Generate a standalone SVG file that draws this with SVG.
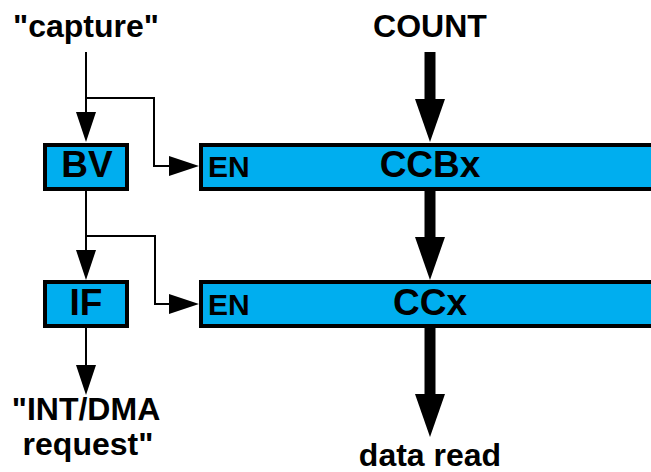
<svg xmlns="http://www.w3.org/2000/svg" width="651" height="472" viewBox="0 0 651 472">
<style>
.box{fill:#00AEEF;stroke:#000;stroke-width:4}
.thin{fill:none;stroke:#000;stroke-width:2}
.thick{fill:none;stroke:#000;stroke-width:11}
text{font-family:"Liberation Sans",Arial,sans-serif;font-weight:bold;fill:#000}
.lbl{font-size:32px;text-anchor:middle}
.big{font-size:37px;text-anchor:middle}
.en{font-size:30px}
</style>
<defs>
<marker id="ah" markerUnits="userSpaceOnUse" markerWidth="30" markerHeight="20" refX="0" refY="10" orient="auto" overflow="visible">
<path d="M0,0 L30,10 L0,20 Z" fill="#000"/>
</marker>
<marker id="ahb" markerUnits="userSpaceOnUse" markerWidth="43" markerHeight="30" refX="0" refY="15" orient="auto" overflow="visible">
<path d="M0,0 L43,15 L0,30 Z" fill="#000"/>
</marker>
</defs>
<g id="connectors">
<path class="thin" d="M86,52 V112" marker-end="url(#ah)"/>
<path class="thin" d="M86,98 H154 V166 H169" marker-end="url(#ah)"/>
<path class="thin" d="M86,191 V250" marker-end="url(#ah)"/>
<path class="thin" d="M86,236 H155 V304 H169" marker-end="url(#ah)"/>
<path class="thin" d="M86,328 V365" marker-end="url(#ah)"/>
<path class="thick" d="M430,52 V99" marker-end="url(#ahb)"/>
<path class="thick" d="M430,191 V237" marker-end="url(#ahb)"/>
<path class="thick" d="M430,328 V394" marker-end="url(#ahb)"/>
</g>
<g id="capture"><text class="lbl" x="86" y="37">"capture"</text></g>
<g id="count"><text class="lbl" x="430" y="37">COUNT</text></g>
<g id="bv"><rect class="box" x="45" y="145" width="82" height="44"/><text class="big" x="87" y="177">BV</text></g>
<g id="if"><rect class="box" x="45" y="282" width="82" height="44"/><text class="big" x="86" y="315">IF</text></g>
<g id="ccbx"><rect class="box" x="201" y="145" width="500" height="44"/><text class="en" x="208" y="177">EN</text><text class="big" x="430" y="177">CCBx</text></g>
<g id="ccx"><rect class="box" x="201" y="282" width="500" height="44"/><text class="en" x="208" y="315">EN</text><text class="big" x="430" y="315">CCx</text></g>
<g id="intdma"><text class="lbl" x="86" y="420">"INT/DMA</text><text class="lbl" x="88" y="455">request"</text></g>
<g id="dataread"><text class="lbl" x="430" y="466">data read</text></g>
</svg>
